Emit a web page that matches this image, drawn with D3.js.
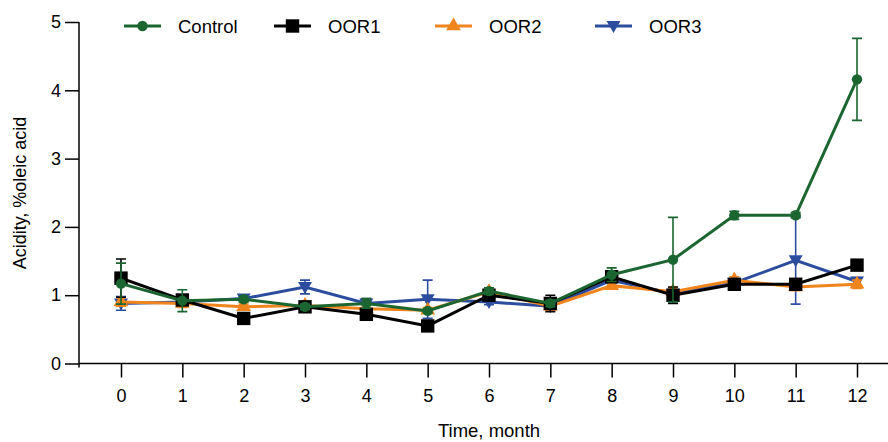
<!DOCTYPE html>
<html><head><meta charset="utf-8">
<script src="https://cdn.jsdelivr.net/npm/d3@7"></script>
<style>body{margin:0;background:#fff;} text{font-family:"Liberation Sans",Arial,sans-serif;}</style>
</head><body><svg id="c" width="888" height="442"></svg>
<script>
const months = [0,1,2,3,4,5,6,7,8,9,10,11,12];
const yTicks = [0,1,2,3,4,5];
const seriesNames = ["Control","OOR1","OOR2","OOR3"];
const controlVals = [1.17,0.92,0.94,0.83,0.88,0.77,1.06,0.88,1.30,1.52,2.17,2.17,4.16];
const controlErr  = [0.30,0.16,0.04,0.04,0.07,0.03,0.05,0.05,0.10,0.62,0.06,0.04,0.60];
const oor1Vals = [1.25,0.93,0.66,0.83,0.72,0.55,1.00,0.88,1.27,1.00,1.16,1.16,1.44];
const oor1Err  = [0.28,0.06,0.04,0.05,0.05,0.04,0.05,0.12,0.08,0.12,0.05,0.06,0.05];
const oor2Vals = [0.90,0.88,0.83,0.85,0.80,0.78,1.05,0.84,1.14,1.05,1.22,1.12,1.16];
const oor2Err  = [0.06,0.06,0.04,0.05,0.05,0.04,0.05,0.06,0.05,0.06,0.05,0.05,0.06];
const oor3Vals = [0.88,0.90,0.95,1.12,0.88,0.94,0.90,0.84,1.22,1.02,1.18,1.51,1.20];
const oor3Err  = [0.10,0.05,0.04,0.10,0.07,0.28,0.04,0.04,0.05,0.06,0.05,0.64,0.06];
const colors = ["#1b6630","#000000","#f0851d","#2c4d9e"];
const markers = ["circle","square","triangle","triangleDown"];

const series = [
  {name:seriesNames[0], vals:controlVals, err:controlErr, color:colors[0], marker:markers[0]},
  {name:seriesNames[1], vals:oor1Vals, err:oor1Err, color:colors[1], marker:markers[1]},
  {name:seriesNames[2], vals:oor2Vals, err:oor2Err, color:colors[2], marker:markers[2]},
  {name:seriesNames[3], vals:oor3Vals, err:oor3Err, color:colors[3], marker:markers[3]},
];

const svg = d3.select("#c");
const x0 = 121, x12 = 857;
const x = d3.scaleLinear().domain([0,12]).range([x0,x12]);
const y = d3.scaleLinear().domain([0,5]).range([363.5,22]);
const axisX = 79;

// axes
const gy = svg.append("g").attr("transform",`translate(${axisX},0)`)
  .call(d3.axisLeft(y).tickValues(yTicks).tickSize(14).tickPadding(4).tickFormat(d3.format("d")));
gy.select(".domain").attr("d",`M0,${y(5)}V${y(0)+4}`);
const gx = svg.append("g").attr("transform",`translate(0,${y(0)})`)
  .call(d3.axisBottom(x).tickValues(months).tickSize(14).tickPadding(12).tickFormat(d3.format("d")));
gx.select(".domain").attr("d",`M${axisX},0H888`);
svg.selectAll(".tick text").style("font-size","18px").attr("fill","#000").style("font-family","'Liberation Sans',Arial,sans-serif");
svg.selectAll(".domain, .tick line").attr("stroke","#000").attr("stroke-width",1.5);

svg.append("text").attr("x",489).attr("y",437).attr("text-anchor","middle").style("font-size","18.5px").text("Time, month");
svg.append("text").attr("transform","translate(26,193) rotate(-90)").attr("text-anchor","middle").style("font-size","18px").text("Acidity, %oleic acid");

function sym(type){
  if(type==="circle") return d3.symbol(d3.symbolCircle, 85)();
  if(type==="square") return d3.symbol(d3.symbolSquare, 180)();
  if(type==="triangle") return d3.symbol(d3.symbolTriangle, 95)();
  return "M-7,-5L7,-5L0,7Z";
}

const line = d3.line().x((d,i)=>x(months[i])).y(d=>y(d));
const drawOrder = [3,2,1,0];
drawOrder.forEach(k=>{
  const s = series[k];
  const g = svg.append("g");
  s.vals.forEach((v,i)=>{
    const cx = x(months[i]), t = y(v+s.err[i]), b = y(Math.max(0,v-s.err[i]));
    g.append("path").attr("d",`M${cx},${t}V${b}M${cx-5},${t}H${cx+5}M${cx-5},${b}H${cx+5}`)
      .attr("stroke",s.color).attr("stroke-width",1.6).attr("fill","none");
  });
  g.append("path").datum(s.vals).attr("d",line).attr("fill","none").attr("stroke",s.color).attr("stroke-width",3);
  g.selectAll("path.m").data(s.vals).enter().append("path").attr("class","m")
    .attr("d",sym(s.marker)).attr("transform",(d,i)=>`translate(${x(months[i])},${y(d)})`).attr("fill",s.color);
});

// legend
const legX = [124, 274, 435, 595];
series.forEach((s,k)=>{
  const g = svg.append("g").attr("transform",`translate(${legX[k]},26)`);
  g.append("line").attr("x1",0).attr("x2",37).attr("stroke",s.color).attr("stroke-width",3);
  g.append("path").attr("d",sym(s.marker)).attr("transform","translate(18.5,0)").attr("fill",s.color);
  g.append("text").attr("x",54).attr("y",7).style("font-size","18.5px").text(s.name);
});
</script></body></html>
